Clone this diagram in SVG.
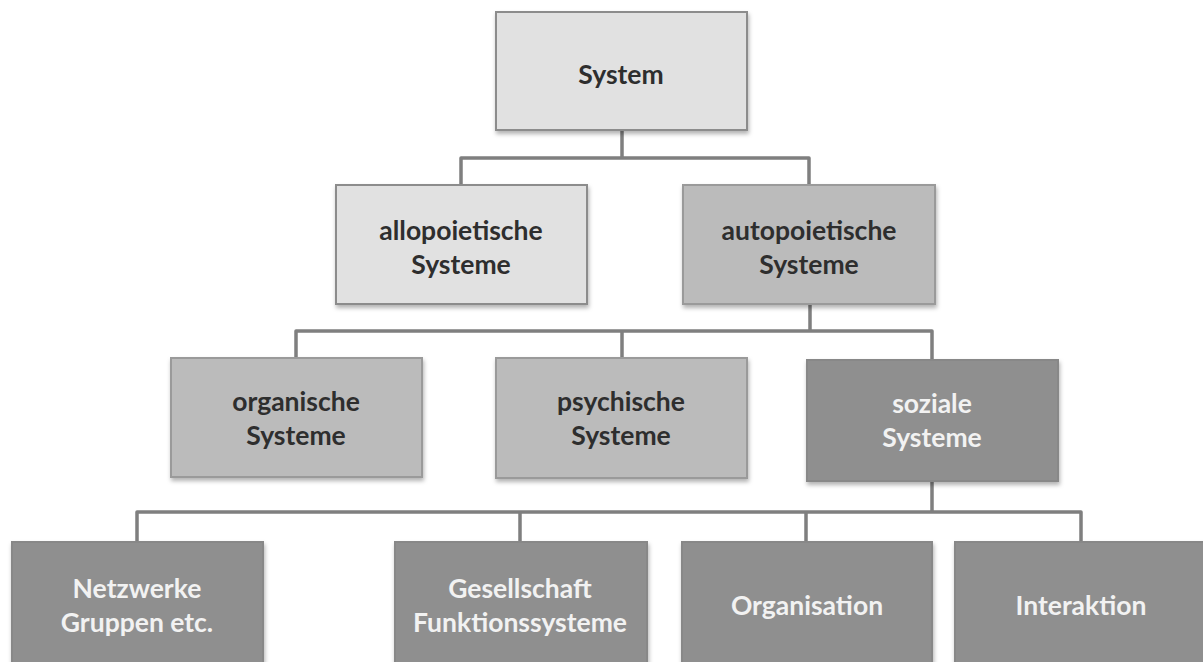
<svg xmlns="http://www.w3.org/2000/svg" width="1203" height="662" viewBox="0 0 1203 662">
<defs>
<filter id="sh" x="-5%" y="-5%" width="115%" height="120%">
<feDropShadow dx="1" dy="3" stdDeviation="2" flood-color="#000" flood-opacity="0.3"/>
</filter>
</defs>
<style>
.box{stroke-width:2;filter:url(#sh)}
.l1{fill:#e1e1e1;stroke:#8c8c8c}
.l2{fill:#bbbbbb;stroke:#9a9a9a}
.l3{fill:#8f8f8f;stroke:#888}
.t{font-family:Lato,"Open Sans",sans-serif;font-weight:bold;font-size:26.5px;text-anchor:middle}
.dk{fill:#2e2e2e}
.wt{fill:#f2f2f2}
.c{fill:none;stroke:#7f7f7f;stroke-width:3.5;stroke-linejoin:round}
</style>
<rect width="1203" height="662" fill="#fff"/>
<g id="connectors">
<path class="c" d="M622 130 V158 M461 185 V158 H809 V185"/>
<path class="c" d="M810 304 V331 M296 358 V331 H932 V360 M622 331 V358"/>
<path class="c" d="M932 481 V512 M137 542 V512 H1081 V542 M520 512 V542 M806 512 V542"/>
</g>
<g id="system"><rect class="box l1" x="496" y="12" width="251" height="118"/><text class="t dk" x="621" y="84">System</text></g>
<g id="allopoietische"><rect class="box l1" x="336" y="185" width="251" height="119"/><text class="t dk" x="461" y="240">allopoietische</text><text class="t dk" x="461" y="274">Systeme</text></g>
<g id="autopoietische"><rect class="box l2" x="683" y="185" width="252" height="119"/><text class="t dk" x="809" y="240">autopoietische</text><text class="t dk" x="809" y="274">Systeme</text></g>
<g id="organische"><rect class="box l2" x="171" y="358" width="251" height="119"/><text class="t dk" x="296" y="411">organische</text><text class="t dk" x="296" y="445">Systeme</text></g>
<g id="psychische"><rect class="box l2" x="496" y="358" width="251" height="120"/><text class="t dk" x="621" y="411">psychische</text><text class="t dk" x="621" y="445">Systeme</text></g>
<g id="soziale"><rect class="box l3" x="807" y="360" width="251" height="121"/><text class="t wt" x="932" y="413">soziale</text><text class="t wt" x="932" y="447">Systeme</text></g>
<g id="netzwerke"><rect class="box l3" x="12" y="542" width="251" height="130"/><text class="t wt" x="137" y="598">Netzwerke</text><text class="t wt" x="137" y="632">Gruppen etc.</text></g>
<g id="gesellschaft"><rect class="box l3" x="395" y="542" width="252" height="130"/><text class="t wt" x="520" y="598">Gesellschaft</text><text class="t wt" x="520" y="632">Funktionssysteme</text></g>
<g id="organisation"><rect class="box l3" x="682" y="542" width="250" height="130"/><text class="t wt" x="807" y="615">Organisation</text></g>
<g id="interaktion"><rect class="box l3" x="955" y="542" width="252" height="130"/><text class="t wt" x="1081" y="615">Interaktion</text></g>
</svg>
